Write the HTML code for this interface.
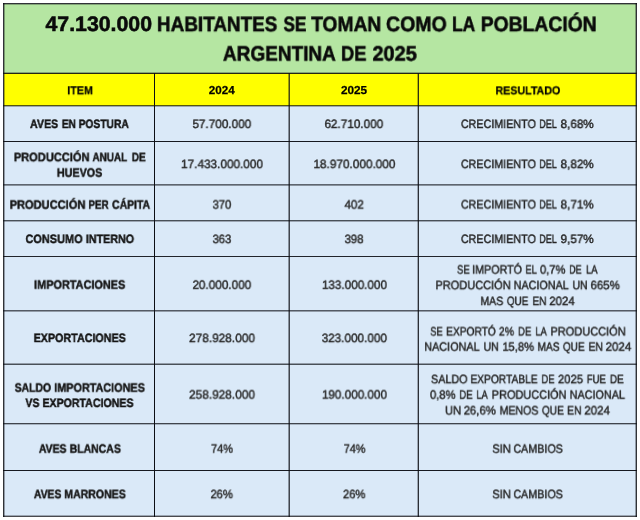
<!DOCTYPE html>
<html><head><meta charset="utf-8"><title>Tabla</title>
<style>
html,body{margin:0;padding:0;background:#fff;}
body{width:640px;height:520px;position:relative;overflow:hidden;font-family:"Liberation Sans",sans-serif;color:#000;}
.c{position:absolute;}
.g{background:#b5e6a2;}.y{background:#ffff00;}.b{background:#dae9f8;}
.l{position:absolute;background:#1c1c1c;}
.x{position:absolute;white-space:nowrap;transform-origin:0 0;line-height:1;display:block;text-rendering:geometricPrecision;will-change:transform;}

.t{font-size:21px;font-weight:bold;color:#0a0a0a;line-height:21px;-webkit-text-stroke:0.55px #0a0a0a;}
.h{font-size:11.5px;font-weight:bold;color:#000;line-height:11.5px;-webkit-text-stroke:0.25px #000;}
.i{font-size:12.2px;font-weight:bold;color:#151515;line-height:12.2px;-webkit-text-stroke:0.45px #151515;}
.n{font-size:12.1px;font-weight:normal;color:#2b2b2b;line-height:12.1px;-webkit-text-stroke:0.45px #2b2b2b;}
.r{font-size:12.1px;font-weight:normal;color:#262626;line-height:12.1px;-webkit-text-stroke:0.45px #262626;}
</style></head><body>
<div class="c g" style="left:4px;top:4px;width:632px;height:69px;"></div>
<div class="c y" style="left:4px;top:73px;width:632px;height:33px;"></div>
<div class="c b" style="left:4px;top:106px;width:632px;height:410px;"></div>
<div class="l" style="left:3px;top:3px;width:634px;height:1px;background:rgba(12,14,20,0.85)"></div>
<div class="l" style="left:3px;top:4px;width:634px;height:1px;background:rgba(12,14,20,0.3)"></div>
<div class="l" style="left:3px;top:72px;width:634px;height:1px;background:rgba(12,14,20,0.3)"></div>
<div class="l" style="left:3px;top:73px;width:634px;height:1px;background:rgba(12,14,20,0.9)"></div>
<div class="l" style="left:3px;top:105px;width:634px;height:1px;background:rgba(12,14,20,0.7)"></div>
<div class="l" style="left:3px;top:106px;width:634px;height:1px;background:rgba(12,14,20,0.3)"></div>
<div class="l" style="left:3px;top:141px;width:634px;height:1px;background:rgba(12,14,20,0.95)"></div>
<div class="l" style="left:3px;top:184px;width:634px;height:1px;background:rgba(12,14,20,0.6)"></div>
<div class="l" style="left:3px;top:185px;width:634px;height:1px;background:rgba(12,14,20,0.4)"></div>
<div class="l" style="left:3px;top:220px;width:634px;height:1px;background:rgba(12,14,20,0.7)"></div>
<div class="l" style="left:3px;top:221px;width:634px;height:1px;background:rgba(12,14,20,0.3)"></div>
<div class="l" style="left:3px;top:256px;width:634px;height:1px;background:rgba(12,14,20,0.9)"></div>
<div class="l" style="left:3px;top:310px;width:634px;height:1px;background:rgba(12,14,20,0.65)"></div>
<div class="l" style="left:3px;top:311px;width:634px;height:1px;background:rgba(12,14,20,0.35)"></div>
<div class="l" style="left:3px;top:363px;width:634px;height:1px;background:rgba(12,14,20,0.35)"></div>
<div class="l" style="left:3px;top:364px;width:634px;height:1px;background:rgba(12,14,20,0.7)"></div>
<div class="l" style="left:3px;top:423px;width:634px;height:1px;background:rgba(12,14,20,0.75)"></div>
<div class="l" style="left:3px;top:424px;width:634px;height:1px;background:rgba(12,14,20,0.25)"></div>
<div class="l" style="left:3px;top:470px;width:634px;height:1px;background:rgba(12,14,20,0.95)"></div>
<div class="l" style="left:3px;top:515px;width:634px;height:1px;background:rgba(12,14,20,0.3)"></div>
<div class="l" style="left:3px;top:516px;width:634px;height:1px;background:rgba(12,14,20,0.75)"></div>
<div class="l" style="left:3px;top:3px;width:1px;height:514px;background:rgba(12,14,20,0.85)"></div>
<div class="l" style="left:4px;top:3px;width:1px;height:514px;background:rgba(12,14,20,0.35)"></div>
<div class="l" style="left:154px;top:73px;width:1px;height:444px;background:rgba(12,14,20,1.0)"></div>
<div class="l" style="left:288px;top:73px;width:1px;height:444px;background:rgba(12,14,20,0.4)"></div>
<div class="l" style="left:289px;top:73px;width:1px;height:444px;background:rgba(12,14,20,0.75)"></div>
<div class="l" style="left:417px;top:73px;width:1px;height:444px;background:rgba(12,14,20,0.3)"></div>
<div class="l" style="left:418px;top:73px;width:1px;height:444px;background:rgba(12,14,20,0.85)"></div>
<div class="l" style="left:635px;top:3px;width:1px;height:514px;background:rgba(12,14,20,0.35)"></div>
<div class="l" style="left:636px;top:3px;width:1px;height:514px;background:rgba(12,14,20,0.85)"></div>
<span class="x t" style="left:45px;padding-left:0.423px;top:14px;transform:translateY(0.19px) scaleX(1.0145)">47.130.000</span>
<span class="x t" style="left:156px;padding-left:1.108px;top:14px;transform:translateY(0.19px) scaleX(0.9001)">HABITANTES</span>
<span class="x t" style="left:283px;padding-left:0.457px;top:14px;transform:translateY(0.19px) scaleX(0.8229)">SE</span>
<span class="x t" style="left:311px;padding-left:0.166px;top:14px;transform:translateY(0.19px) scaleX(0.9146)">TOMAN</span>
<span class="x t" style="left:385px;padding-left:0.973px;top:14px;transform:translateY(0.19px) scaleX(0.9307)">COMO</span>
<span class="x t" style="left:452px;padding-left:0.057px;top:14px;transform:translateY(0.19px) scaleX(0.8310)">LA</span>
<span class="x t" style="left:480px;padding-left:0.796px;top:14px;transform:translateY(0.19px) scaleX(0.9205)">POBLACIÓN</span>
<span class="x t" style="left:222px;padding-left:1.105px;top:43px;transform:translateY(0.67px) scaleX(0.9036)">ARGENTINA</span>
<span class="x t" style="left:341px;padding-left:0.022px;top:43px;transform:translateY(0.67px) scaleX(0.8706)">DE</span>
<span class="x t" style="left:372px;padding-left:0.433px;top:43px;transform:translateY(0.67px) scaleX(0.9509)">2025</span>
<span class="x h" style="left:67px;padding-left:0.286px;top:86px;transform:translateY(0.24px) scaleX(0.9304)">ITEM</span>
<span class="x h" style="left:208px;padding-left:0.767px;top:86px;transform:translateY(0.37px) scaleX(1.0118)">2024</span>
<span class="x h" style="left:341px;padding-left:0.027px;top:86px;transform:translateY(0.37px) scaleX(1.0213)">2025</span>
<span class="x h" style="left:495px;padding-left:0.557px;top:86px;transform:translateY(0.37px) scaleX(0.9265)">RESULTADO</span>
<span class="x i" style="left:30px;padding-left:0.110px;top:117px;transform:translateY(0.99px) scaleX(0.8665)">AVES</span>
<span class="x i" style="left:61px;padding-left:0.883px;top:117px;transform:translateY(0.99px) scaleX(0.8354)">EN</span>
<span class="x i" style="left:78px;padding-left:0.700px;top:117px;transform:translateY(0.99px) scaleX(0.8425)">POSTURA</span>
<span class="x i" style="left:13px;padding-left:0.941px;top:151px;transform:translateY(0.24px) scaleX(0.9074)">PRODUCCIÓN</span>
<span class="x i" style="left:92px;padding-left:0.408px;top:151px;transform:translateY(0.24px) scaleX(0.8189)">ANUAL</span>
<span class="x i" style="left:131px;padding-left:0.898px;top:151px;transform:translateY(0.24px) scaleX(0.8173)">DE</span>
<span class="x i" style="left:56px;padding-left:0.961px;top:166px;transform:translateY(0.74px) scaleX(0.8834)">HUEVOS</span>
<span class="x i" style="left:9px;padding-left:0.665px;top:198px;transform:translateY(0.74px) scaleX(0.9092)">PRODUCCIÓN</span>
<span class="x i" style="left:88px;padding-left:0.411px;top:198px;transform:translateY(0.74px) scaleX(0.8071)">PER</span>
<span class="x i" style="left:112px;padding-left:0.108px;top:198px;transform:translateY(0.74px) scaleX(0.8535)">CÁPITA</span>
<span class="x i" style="left:25px;padding-left:0.503px;top:232px;transform:translateY(0.99px) scaleX(0.8984)">CONSUMO</span>
<span class="x i" style="left:85px;padding-left:0.963px;top:232px;transform:translateY(0.99px) scaleX(0.8803)">INTERNO</span>
<span class="x i" style="left:34px;padding-left:0.113px;top:278px;transform:translateY(0.74px) scaleX(0.8941)">IMPORTACIONES</span>
<span class="x i" style="left:33px;padding-left:0.679px;top:331px;transform:translateY(0.99px) scaleX(0.8805)">EXPORTACIONES</span>
<span class="x i" style="left:14px;padding-left:0.691px;top:381px;transform:translateY(0.74px) scaleX(0.8586)">SALDO</span>
<span class="x i" style="left:54px;padding-left:0.281px;top:381px;transform:translateY(0.74px) scaleX(0.8878)">IMPORTACIONES</span>
<span class="x i" style="left:25px;padding-left:0.518px;top:396px;transform:translateY(0.99px) scaleX(0.8535)">VS</span>
<span class="x i" style="left:42px;padding-left:0.397px;top:396px;transform:translateY(0.99px) scaleX(0.8710)">EXPORTACIONES</span>
<span class="x i" style="left:38px;padding-left:0.982px;top:442px;transform:translateY(0.74px) scaleX(0.8588)">AVES</span>
<span class="x i" style="left:69px;padding-left:0.690px;top:442px;transform:translateY(0.74px) scaleX(0.8597)">BLANCAS</span>
<span class="x i" style="left:33px;padding-left:0.989px;top:488px;transform:translateY(0.24px) scaleX(0.8511)">AVES</span>
<span class="x i" style="left:64px;padding-left:0.283px;top:488px;transform:translateY(0.24px) scaleX(0.8660)">MARRONES</span>
<span class="x n" style="left:192px;padding-left:0.379px;top:117px;transform:translateY(0.96px) scaleX(0.9714)">57.700.000</span>
<span class="x n" style="left:181px;padding-left:0.122px;top:158px;transform:translateY(0.08px) scaleX(0.9730)">17.433.000.000</span>
<span class="x n" style="left:212px;padding-left:0.384px;top:198px;transform:translateY(0.58px) scaleX(0.9449)">370</span>
<span class="x n" style="left:212px;padding-left:0.384px;top:233px;transform:translateY(0.08px) scaleX(0.9449)">363</span>
<span class="x n" style="left:192px;padding-left:0.379px;top:278px;transform:translateY(0.83px) scaleX(0.9714)">20.000.000</span>
<span class="x n" style="left:189px;padding-left:0.123px;top:332px;transform:translateY(0.08px) scaleX(0.9783)">278.928.000</span>
<span class="x n" style="left:189px;padding-left:0.123px;top:388px;transform:translateY(0.58px) scaleX(0.9783)">258.928.000</span>
<span class="x n" style="left:211px;padding-left:0.114px;top:442px;transform:translateY(0.71px) scaleX(0.9035)">74%</span>
<span class="x n" style="left:210px;padding-left:0.386px;top:488px;transform:translateY(0.21px) scaleX(0.9337)">26%</span>
<span class="x n" style="left:324px;padding-left:0.379px;top:117px;transform:translateY(0.96px) scaleX(0.9714)">62.710.000</span>
<span class="x n" style="left:313px;padding-left:0.379px;top:158px;transform:translateY(0.08px) scaleX(0.9759)">18.970.000.000</span>
<span class="x n" style="left:344px;padding-left:0.380px;top:198px;transform:translateY(0.58px) scaleX(0.9688)">402</span>
<span class="x n" style="left:344px;padding-left:0.382px;top:233px;transform:translateY(0.08px) scaleX(0.9568)">398</span>
<span class="x n" style="left:321px;padding-left:0.897px;top:278px;transform:translateY(0.83px) scaleX(0.9672)">133.000.000</span>
<span class="x n" style="left:321px;padding-left:0.637px;top:332px;transform:translateY(0.08px) scaleX(0.9709)">323.000.000</span>
<span class="x n" style="left:321px;padding-left:0.897px;top:388px;transform:translateY(0.58px) scaleX(0.9672)">190.000.000</span>
<span class="x n" style="left:343px;padding-left:0.668px;top:442px;transform:translateY(0.71px) scaleX(0.9035)">74%</span>
<span class="x n" style="left:342px;padding-left:0.921px;top:488px;transform:translateY(0.21px) scaleX(0.9337)">26%</span>
<span class="x r" style="left:460px;padding-left:0.900px;top:117px;transform:translateY(0.96px) scaleX(0.8890)">CRECIMIENTO</span>
<span class="x r" style="left:539px;padding-left:0.158px;top:117px;transform:translateY(0.96px) scaleX(0.7484)">DEL</span>
<span class="x r" style="left:560px;padding-left:0.587px;top:117px;transform:translateY(0.96px) scaleX(0.9675)">8,68%</span>
<span class="x r" style="left:460px;padding-left:0.900px;top:158px;transform:translateY(0.08px) scaleX(0.8890)">CRECIMIENTO</span>
<span class="x r" style="left:539px;padding-left:0.158px;top:158px;transform:translateY(0.08px) scaleX(0.7484)">DEL</span>
<span class="x r" style="left:560px;padding-left:0.587px;top:158px;transform:translateY(0.08px) scaleX(0.9675)">8,82%</span>
<span class="x r" style="left:460px;padding-left:0.900px;top:198px;transform:translateY(0.46px) scaleX(0.8890)">CRECIMIENTO</span>
<span class="x r" style="left:539px;padding-left:0.158px;top:198px;transform:translateY(0.46px) scaleX(0.7484)">DEL</span>
<span class="x r" style="left:560px;padding-left:0.587px;top:198px;transform:translateY(0.46px) scaleX(0.9675)">8,71%</span>
<span class="x r" style="left:460px;padding-left:0.900px;top:232px;transform:translateY(0.96px) scaleX(0.8890)">CRECIMIENTO</span>
<span class="x r" style="left:539px;padding-left:0.158px;top:232px;transform:translateY(0.96px) scaleX(0.7484)">DEL</span>
<span class="x r" style="left:560px;padding-left:0.587px;top:232px;transform:translateY(0.96px) scaleX(0.9675)">9,57%</span>
<span class="x r" style="left:457px;padding-left:0.097px;top:263px;transform:translateY(0.58px) scaleX(0.7810)">SE</span>
<span class="x r" style="left:472px;padding-left:0.068px;top:263px;transform:translateY(0.58px) scaleX(0.8894)">IMPORTÓ</span>
<span class="x r" style="left:525px;padding-left:0.547px;top:263px;transform:translateY(0.58px) scaleX(0.7766)">EL</span>
<span class="x r" style="left:539px;padding-left:0.925px;top:263px;transform:translateY(0.58px) scaleX(0.9288)">0,7%</span>
<span class="x r" style="left:569px;padding-left:0.293px;top:263px;transform:translateY(0.58px) scaleX(0.7333)">DE</span>
<span class="x r" style="left:586px;padding-left:0.097px;top:263px;transform:translateY(0.58px) scaleX(0.7789)">LA</span>
<span class="x r" style="left:435px;padding-left:0.500px;top:279px;transform:translateY(0.21px) scaleX(0.9094)">PRODUCCIÓN</span>
<span class="x r" style="left:513px;padding-left:0.674px;top:279px;transform:translateY(0.21px) scaleX(0.8913)">NACIONAL</span>
<span class="x r" style="left:572px;padding-left:0.395px;top:279px;transform:translateY(0.21px) scaleX(0.8816)">UN</span>
<span class="x r" style="left:590px;padding-left:0.489px;top:279px;transform:translateY(0.21px) scaleX(0.9454)">665%</span>
<span class="x r" style="left:480px;padding-left:0.513px;top:295px;transform:translateY(0.08px) scaleX(0.8668)">MAS</span>
<span class="x r" style="left:506px;padding-left:0.891px;top:295px;transform:translateY(0.08px) scaleX(0.8255)">QUE</span>
<span class="x r" style="left:532px;padding-left:0.404px;top:295px;transform:translateY(0.08px) scaleX(0.8386)">EN</span>
<span class="x r" style="left:549px;padding-left:0.278px;top:295px;transform:translateY(0.08px) scaleX(0.9447)">2024</span>
<span class="x r" style="left:430px;padding-left:0.289px;top:325px;transform:translateY(0.46px) scaleX(0.7780)">SE</span>
<span class="x r" style="left:446px;padding-left:0.107px;top:325px;transform:translateY(0.46px) scaleX(0.8447)">EXPORTÓ</span>
<span class="x r" style="left:498px;padding-left:0.975px;top:325px;transform:translateY(0.46px) scaleX(0.8665)">2%</span>
<span class="x r" style="left:517px;padding-left:1.169px;top:325px;transform:translateY(0.46px) scaleX(0.7944)">DE</span>
<span class="x r" style="left:535px;padding-left:0.551px;top:325px;transform:translateY(0.46px) scaleX(0.7666)">LA</span>
<span class="x r" style="left:550px;padding-left:0.500px;top:325px;transform:translateY(0.46px) scaleX(0.9094)">PRODUCCIÓN</span>
<span class="x r" style="left:424px;padding-left:0.281px;top:340px;transform:translateY(0.71px) scaleX(0.8969)">NACIONAL</span>
<span class="x r" style="left:483px;padding-left:0.393px;top:340px;transform:translateY(0.71px) scaleX(0.8933)">UN</span>
<span class="x r" style="left:502px;padding-left:0.388px;top:340px;transform:translateY(0.71px) scaleX(0.9217)">15,8%</span>
<span class="x r" style="left:537px;padding-left:0.401px;top:340px;transform:translateY(0.71px) scaleX(0.8518)">MAS</span>
<span class="x r" style="left:562px;padding-left:0.882px;top:340px;transform:translateY(0.71px) scaleX(0.8368)">QUE</span>
<span class="x r" style="left:588px;padding-left:0.400px;top:340px;transform:translateY(0.71px) scaleX(0.8567)">EN</span>
<span class="x r" style="left:605px;padding-left:0.487px;top:340px;transform:translateY(0.71px) scaleX(0.9556)">2024</span>
<span class="x r" style="left:431px;padding-left:0.112px;top:373px;transform:translateY(0.21px) scaleX(0.8869)">SALDO</span>
<span class="x r" style="left:470px;padding-left:0.521px;top:373px;transform:translateY(0.21px) scaleX(0.8433)">EXPORTABLE</span>
<span class="x r" style="left:541px;padding-left:0.417px;top:373px;transform:translateY(0.21px) scaleX(0.7827)">DE</span>
<span class="x r" style="left:557px;padding-left:1.030px;top:373px;transform:translateY(0.21px) scaleX(0.9320)">2025</span>
<span class="x r" style="left:586px;padding-left:0.920px;top:373px;transform:translateY(0.21px) scaleX(0.7916)">FUE</span>
<span class="x r" style="left:609px;padding-left:1.009px;top:373px;transform:translateY(0.21px) scaleX(0.8293)">DE</span>
<span class="x r" style="left:429px;padding-left:0.922px;top:388px;transform:translateY(0.71px) scaleX(0.9323)">0,8%</span>
<span class="x r" style="left:459px;padding-left:0.288px;top:388px;transform:translateY(0.71px) scaleX(0.7944)">DE</span>
<span class="x r" style="left:476px;padding-left:0.421px;top:388px;transform:translateY(0.71px) scaleX(0.7635)">LA</span>
<span class="x r" style="left:491px;padding-left:0.833px;top:388px;transform:translateY(0.71px) scaleX(0.9040)">PRODUCCIÓN</span>
<span class="x r" style="left:569px;padding-left:0.672px;top:388px;transform:translateY(0.71px) scaleX(0.8953)">NACIONAL</span>
<span class="x r" style="left:444px;padding-left:0.923px;top:404px;transform:translateY(0.46px) scaleX(0.9311)">UN</span>
<span class="x r" style="left:463px;padding-left:0.652px;top:404px;transform:translateY(0.46px) scaleX(0.9375)">26,6%</span>
<span class="x r" style="left:499px;padding-left:0.683px;top:404px;transform:translateY(0.46px) scaleX(0.8741)">MENOS</span>
<span class="x r" style="left:541px;padding-left:0.876px;top:404px;transform:translateY(0.46px) scaleX(0.8443)">QUE</span>
<span class="x r" style="left:567px;padding-left:0.108px;top:404px;transform:translateY(0.46px) scaleX(0.8537)">EN</span>
<span class="x r" style="left:584px;padding-left:0.277px;top:404px;transform:translateY(0.46px) scaleX(0.9537)">2024</span>
<span class="x r" style="left:492px;padding-left:0.171px;top:442px;transform:translateY(0.71px) scaleX(0.9282)">SIN</span>
<span class="x r" style="left:513px;padding-left:0.394px;top:442px;transform:translateY(0.71px) scaleX(0.8877)">CAMBIOS</span>
<span class="x r" style="left:492px;padding-left:0.171px;top:488px;transform:translateY(0.21px) scaleX(0.9282)">SIN</span>
<span class="x r" style="left:513px;padding-left:0.394px;top:488px;transform:translateY(0.21px) scaleX(0.8877)">CAMBIOS</span>
</body></html>
